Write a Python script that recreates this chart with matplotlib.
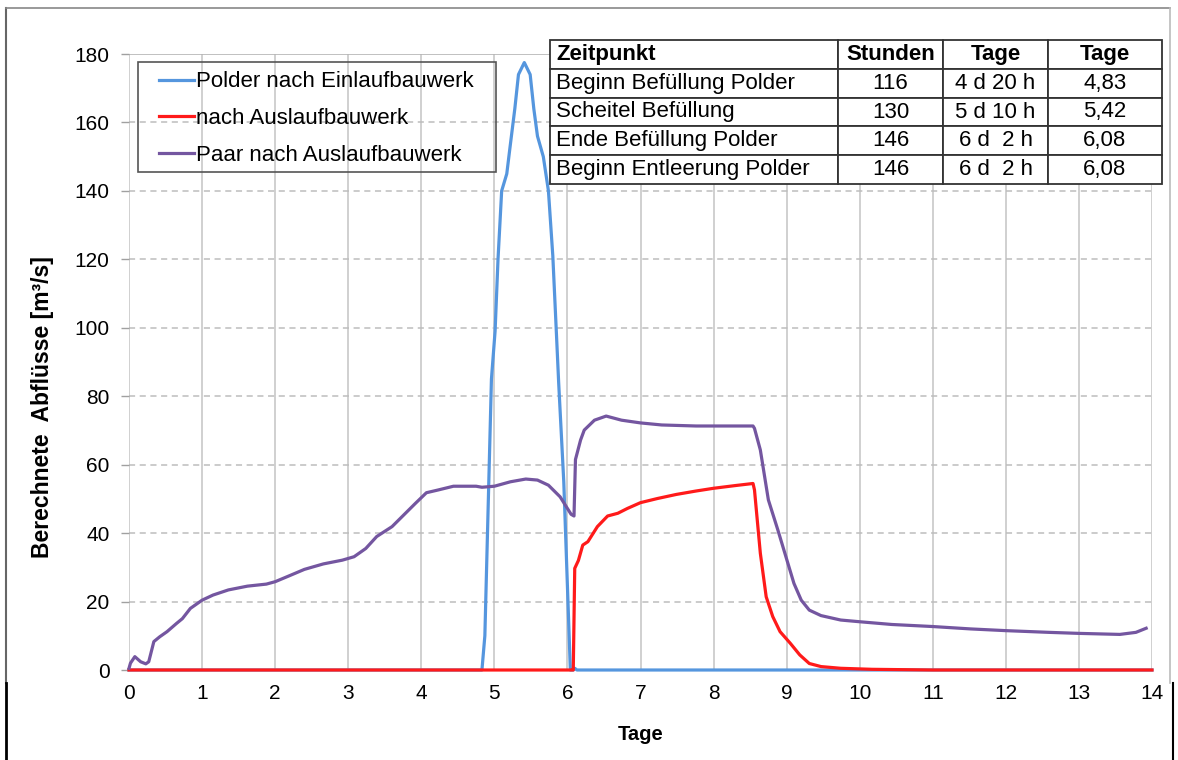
import matplotlib
matplotlib.use("Agg")
import matplotlib.pyplot as plt
from matplotlib.lines import Line2D
from matplotlib.patches import Rectangle

plt.rcParams['font.family'] = ['Liberation Sans', 'DejaVu Sans']

# --- data -------------------------------------------------------------
blue_t = [0, 4.83, 4.87, 4.96, 5.01, 5.05, 5.10, 5.17, 5.21, 5.28, 5.33, 5.41,
          5.49, 5.54, 5.59, 5.67, 5.74, 5.80, 5.85, 5.88, 5.95, 6.04, 6.08,
          6.10, 6.13, 14.0]
blue_v = [0, 0, 10, 85, 99, 120, 140, 145, 152, 164, 174, 177.5,
          174, 164, 156, 150, 140, 121, 98, 84, 55, 0, 0,
          0.5, 0, 0]

red_t = [0, 6.06, 6.08, 6.10, 6.15, 6.21, 6.28, 6.41, 6.55, 6.69, 6.82, 7.0,
         7.23, 7.49, 7.76, 8.0, 8.3, 8.54, 8.56, 8.64, 8.72, 8.81, 8.91, 9.05,
         9.18, 9.31, 9.47, 9.74, 10.17, 11.0, 14.0]
red_v = [0, 0, 0, 29.7, 32.0, 36.5, 37.5, 41.9, 45.0, 45.8, 47.2, 48.9,
         50.1, 51.3, 52.3, 53.1, 53.9, 54.5, 52.6, 34.1, 21.4, 15.6, 11.2, 7.8,
         4.4, 1.9, 1.0, 0.5, 0.2, 0, 0]

purple_t = [0, 0.02, 0.08, 0.16, 0.23, 0.27, 0.34, 0.42, 0.52, 0.65, 0.73, 0.84,
            1.0, 1.15, 1.36, 1.62, 1.88, 2.0, 2.19, 2.4, 2.66, 2.92, 3.08, 3.24,
            3.39, 3.6, 3.76, 3.92, 4.07, 4.23, 4.44, 4.75, 4.83, 5.0, 5.22, 5.43,
            5.59, 5.74, 5.9, 6.05, 6.09, 6.11, 6.18, 6.23, 6.37, 6.53, 6.74, 7.0,
            7.29, 7.76, 8.0, 8.54, 8.56, 8.64, 8.75, 8.88, 8.99, 9.1, 9.2, 9.31,
            9.47, 9.74, 10.0, 10.44, 11.0, 11.52, 12.0, 12.59, 13.0, 13.56, 13.78,
            13.92]
purple_v = [0.5, 2.0, 3.9, 2.4, 1.8, 2.4, 8.3, 9.7, 11.2, 13.6, 15.0, 18.0,
            20.4, 21.9, 23.4, 24.5, 25.1, 25.8, 27.5, 29.4, 31.0, 32.1, 33.1, 35.5,
            39.0, 41.9, 45.3, 48.7, 51.8, 52.6, 53.7, 53.7, 53.4, 53.7, 55.0, 55.8,
            55.5, 54.0, 50.6, 45.5, 45.0, 61.5, 67.2, 70.1, 73.0, 74.2, 73.0, 72.2,
            71.6, 71.3, 71.3, 71.3, 70.6, 64.3, 49.7, 40.9, 33.1, 25.3, 20.4, 17.5,
            15.9, 14.6, 14.1, 13.3, 12.7, 12.0, 11.5, 11.0, 10.7, 10.4, 11.0,
            12.2]

series_labels = ["Polder nach Einlaufbauwerk", "nach Auslaufbauwerk",
                 "Paar nach Auslaufbauwerk"]
series_colors = ["#5596DE", "#FF1A1A", "#7456A0"]

x_ticks = list(range(0, 15))
y_ticks = list(range(0, 181, 20))

table_header = ["Zeitpunkt", "Stunden", "Tage", "Tage"]
table_rows = [
    ["Beginn Befüllung Polder", "116", "4 d 20 h", "4,83"],
    ["Scheitel Befüllung", "130", "5 d 10 h", "5,42"],
    ["Ende Befüllung Polder", "146", "6 d  2 h", "6,08"],
    ["Beginn Entleerung Polder", "146", "6 d  2 h", "6,08"],
]

# --- figure -----------------------------------------------------------
W, H = 1178, 760
fig = plt.figure(figsize=(W / 100, H / 100), dpi=100)
fig.patch.set_facecolor("white")


def fx(px):
    return px / W


def fy(py):
    return 1 - py / H


ax_l, ax_r, ax_t, ax_b = 129, 1152, 54, 670
ax = fig.add_axes([fx(ax_l), fy(ax_b), fx(ax_r) - fx(ax_l), fy(ax_t) - fy(ax_b)])

ax.set_xlim(0, 14)
ax.set_ylim(0, 180)
ax.set_xticks(x_ticks)
ax.set_yticks(y_ticks)

for xv in x_ticks:
    ax.axvline(xv, color="#c8c8c8", lw=1.2, zorder=0)
for yv in y_ticks[1:-1]:
    ax.axhline(yv, color="#bdbdbd", lw=1.1, ls=(0, (4, 3)), zorder=0)
ax.axhline(180, color="#b5b5b5", lw=1.2, zorder=0)

for s in ax.spines.values():
    s.set_visible(False)

ax.tick_params(axis="y", length=6, color="#a0a0a0", width=1, pad=8,
               labelsize=15)
ax.tick_params(axis="x", length=0, pad=10, labelsize=15)

lines = []
for t, v, c, lab in zip([blue_t, red_t, purple_t], [blue_v, red_v, purple_v],
                        series_colors, series_labels):
    ln, = ax.plot(t, v, color=c, lw=2.3, label=lab, clip_on=False,
                  solid_joinstyle="round")
    lines.append(ln)

ax.set_xlabel("Tage", fontsize=14.5, fontweight="bold", labelpad=16)
ax.set_ylabel("Berechnete  Abflüsse [m³/s]", fontsize=16.5, fontweight="bold")
ax.yaxis.set_label_coords((54 - ax_l) / (ax_r - ax_l),
                          (ax_b - 407) / (ax_b - ax_t))

# legend with a plain rectangular frame
leg = fig.legend(handles=lines, loc="upper left",
                 bbox_to_anchor=(fx(155), fy(67)), bbox_transform=fig.transFigure,
                 frameon=False, fontsize=16, handlelength=1.55,
                 handletextpad=0.1, labelspacing=0.7, borderaxespad=0,
                 borderpad=0.2)
fig.add_artist(Rectangle((fx(138), fy(172)), fx(496) - fx(138),
                         fy(62) - fy(172), transform=fig.transFigure,
                         fill=False, edgecolor="#555555", lw=1.2, zorder=5))

# info table
tab_ax = fig.add_axes([0, 0, 1, 1])
tab_ax.set_xlim(0, 1)
tab_ax.set_ylim(0, 1)
tab_ax.axis("off")
col_px = [288, 105, 105, 114]
total = sum(col_px)
tbl = tab_ax.table(cellText=table_rows, colLabels=table_header,
                   colWidths=[c / total for c in col_px],
                   bbox=[fx(550), fy(184), fx(1162) - fx(550), fy(40) - fy(184)])
tbl.auto_set_font_size(False)
for (r, c), cell in tbl.get_celld().items():
    cell.set_edgecolor("#333333")
    cell.set_linewidth(1.3)
    cell.set_facecolor("white")
    txt = cell.get_text()
    txt.set_fontsize(16)
    if c == 0:
        txt.set_ha("left")
        cell.PAD = 0.022
    else:
        txt.set_ha("center")
    if r == 0:
        txt.set_fontweight("bold")

# outer frame of the figure
frame = [
    ((6, 6), (8, 683), "#666666", 1.5),
    ((6, 1170), (8, 8), "#888888", 1.2),
    ((1170, 1170), (8, 683), "#bbbbbb", 1.2),
    ((6, 6), (683, 760), "#000000", 2.0),
    ((1173, 1173), (683, 760), "#000000", 1.5),
]
for xs, ys, col, lw in frame:
    fig.add_artist(Line2D([fx(xs[0]), fx(xs[1])], [fy(ys[0]), fy(ys[1])],
                          transform=fig.transFigure, color=col, lw=lw))

fig.savefig("out.png", dpi=100, facecolor="white")
